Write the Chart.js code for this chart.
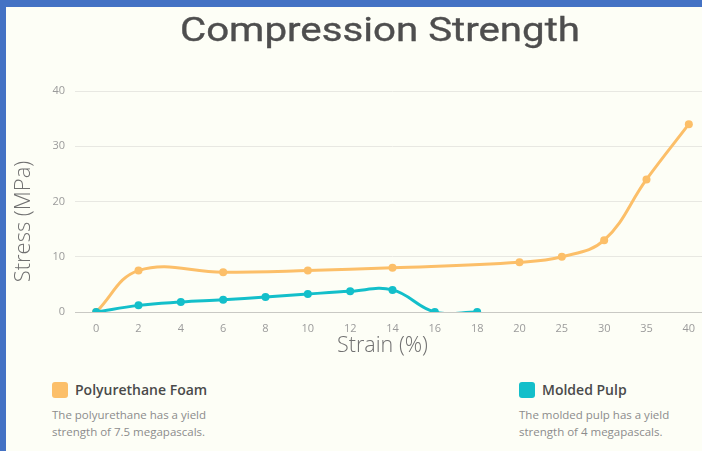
<!DOCTYPE html>
<html>
<head>
<meta charset="utf-8">
<title>Compression Strength</title>
<script src="https://cdn.jsdelivr.net/npm/chart.js@4/dist/chart.umd.min.js"></script>
<style>
  html, body { margin: 0; padding: 0; }
  body {
    width: 702px; height: 451px; overflow: hidden; position: relative;
    background: #fdfef6; font-family: "Open Sans", sans-serif;
  }
  #plot { position: absolute; left: 0; top: 0; }
  .frame-top { position: absolute; left: 0; top: 0; width: 702px; height: 7px; background: #4472c4; }
  .frame-left { position: absolute; left: 0; top: 0; width: 6px; height: 451px; background: #4472c4; }
  h1 {
    position: absolute; left: 0; top: 13px; width: 760px; margin: 0;
    text-align: center; font: 400 33px/33px Roboto, sans-serif; color: #4e4e4e;
    -webkit-text-stroke: 0.35px #4e4e4e;
    transform: scaleX(1.22); transform-origin: 380px 0;
  }
  .key { position: absolute; top: 380px; }
  .key .swatch { position: absolute; left: 0; top: 2px; width: 16px; height: 16px; border-radius: 3px; }
  .key .name {
    position: absolute; left: 23px; top: 0; white-space: nowrap;
    font: 600 14px/20px "Open Sans", sans-serif; color: #4a4a4a;
  }
  .key .desc {
    position: absolute; left: 0; top: 26px; white-space: nowrap;
    font: 400 11.5px/17px "Open Sans", sans-serif; color: #8c8c8c;
  }
</style>
</head>
<body>
<canvas id="plot" width="714" height="360"></canvas>
<h1>Compression Strength</h1>

<div class="key" style="left:52px">
  <div class="swatch" style="background:#fcbf69"></div>
  <div class="name">Polyurethane Foam</div>
  <div class="desc">The polyurethane has a yield<br>strength of 7.5 megapascals.</div>
</div>
<div class="key" style="left:519px">
  <div class="swatch" style="background:#13bfca"></div>
  <div class="name">Molded Pulp</div>
  <div class="desc">The molded pulp has a yield<br>strength of 4 megapascals.</div>
</div>

<div class="frame-top"></div>
<div class="frame-left"></div>

<script>
// Strain steps (%) shown on the horizontal axis
const strainLabels = ['0', '2', '4', '6', '8', '10', '12', '14', '16', '18', '20', '25', '30', '35', '40'];

// Stress (MPa) measured at each strain step; null where no reading was taken
const foamStress = [0, 7.5, null, 7.2, null, 7.5, null, 8, null, null, 9, 10, 13, 24, 34];
const pulpStress = [0, 1.2, 1.8, 2.2, 2.7, 3.25, 3.75, 4, 0, 0, null, null, null, null, null];

// Stress axis ticks
const stressTicks = [0, 10, 20, 30, 40];

const FOAM = '#fcbf69';
const PULP = '#13bfca';

// Axis captions drawn around the plot area
const axisCaptions = {
  id: 'axisCaptions',
  afterDraw(chart) {
    const { ctx, chartArea } = chart;
    ctx.save();
    ctx.fillStyle = '#707070';
    ctx.textAlign = 'center';
    ctx.textBaseline = 'middle';
    ctx.font = '300 21.5px "Open Sans"';
    ctx.fillText('Strain (%)', (chartArea.left + chartArea.right) / 2 - 10, chartArea.bottom + 34);
    ctx.font = '300 22px "Open Sans"';
    ctx.translate(24, (chartArea.top + chartArea.bottom) / 2 + 20);
    ctx.rotate(-Math.PI / 2);
    ctx.fillText('Stress (MPa)', 0, 0);
    ctx.restore();
  }
};

new Chart(document.getElementById('plot'), {
  type: 'line',
  data: {
    labels: strainLabels,
    datasets: [
      {
        label: 'Polyurethane Foam',
        data: foamStress,
        borderColor: FOAM,
        backgroundColor: FOAM,
        pointBackgroundColor: FOAM,
        pointBorderColor: FOAM,
        order: 2
      },
      {
        label: 'Molded Pulp',
        data: pulpStress,
        borderColor: PULP,
        backgroundColor: PULP,
        pointBackgroundColor: PULP,
        pointBorderColor: PULP,
        order: 1
      }
    ]
  },
  options: {
    responsive: false,
    animation: false,
    spanGaps: true,
    layout: { padding: { top: 91, left: 0, right: 0, bottom: 0 } },
    elements: {
      line: { tension: 0.4, borderWidth: 3, capBezierPoints: false },
      point: { radius: 4, borderWidth: 0, hoverRadius: 4 }
    },
    plugins: {
      legend: { display: false },
      tooltip: { enabled: false },
      title: { display: false }
    },
    scales: {
      x: {
        type: 'category',
        offset: true,
        grid: { display: false },
        border: { display: true, color: '#c9c9c4', width: 1 },
        ticks: {
          color: '#9b9b9b',
          font: { family: 'Open Sans', size: 11 },
          padding: 2,
          autoSkip: false,
          maxRotation: 0
        },
        afterFit(scale) { scale.height = 48; }
      },
      y: {
        min: 0,
        max: 40,
        afterBuildTicks(scale) { scale.ticks = stressTicks.map(v => ({ value: v })); },
        grid: { color: '#e8e8e2', drawTicks: false },
        border: { display: false },
        ticks: {
          color: '#9b9b9b',
          font: { family: 'Open Sans', size: 11 },
          padding: 10
        },
        afterFit(scale) { scale.width = 75; }
      }
    }
  },
  plugins: [axisCaptions]
});
</script>
</body>
</html>
